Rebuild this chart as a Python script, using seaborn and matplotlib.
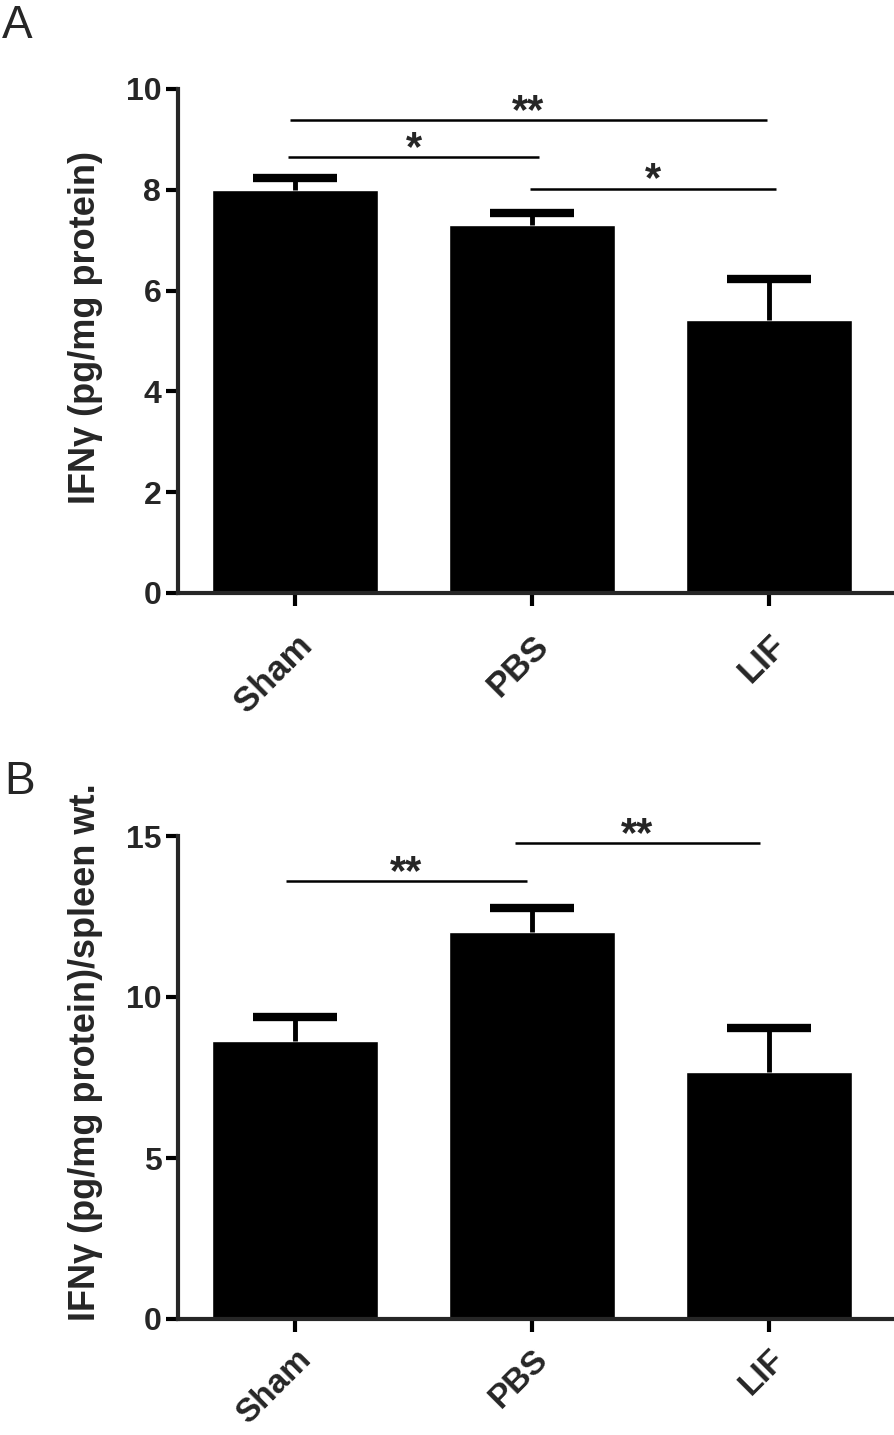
import matplotlib
matplotlib.use('Agg')
import matplotlib.pyplot as plt
import seaborn as sns
import pandas as pd


# =========================================================
# DATA
# =========================================================

groups = ['Sham', 'PBS', 'LIF']

ifng_a = [8.0, 7.3, 5.42]
sem_a = [0.23, 0.23, 0.82]

ifng_b = [8.62, 12.02, 7.66]
sem_b = [0.75, 0.74, 1.38]

# (x start, x end, line height, label)
sig_a = [
    (-0.02, 1.99, 9.38, '**'),
    (-0.03, 1.03, 8.65, '*'),
    (0.99, 2.03, 8.02, '*'),
]

sig_b = [
    (-0.04, 0.98, 13.6, '**'),
    (0.93, 1.96, 14.78, '**'),
]


# =========================================================
# STYLE
# =========================================================

sns.set_style('ticks')
plt.rcParams['font.family'] = ['Liberation Sans', 'DejaVu Sans']

SPINE_W = 3.0


def draw_panel(ax, values, errors, sigs, ymax, yticks, xpad, xsize):
    df = pd.DataFrame({'group': groups, 'value': values})

    sns.barplot(
        data=df, x='group', y='value',
        color='black', saturation=1, width=0.7,
        errorbar=None, ax=ax
    )

    # upper error bars only
    eb = ax.errorbar(
        range(len(groups)), values,
        yerr=[[0] * len(errors), errors],
        fmt='none', ecolor='black',
        elinewidth=3.5, capsize=30, capthick=6,
        zorder=1
    )
    caps = eb.lines[1]
    caps[0].set_visible(False)
    caps[1].set_solid_capstyle('round')

    for x0, x1, y, label in sigs:
        ax.plot([x0, x1], [y, y], color='black', lw=1.8,
                solid_capstyle='butt')
        ax.annotate(
            label, xy=((x0 + x1) / 2, y), xytext=(0, -2),
            textcoords='offset points', ha='center', va='baseline',
            fontsize=30, fontweight='bold'
        )

    ax.set_xlim(-0.494, 2.523)
    ax.set_ylim(0, ymax)
    ax.set_yticks(yticks)
    ax.set_xlabel('')
    ax.set_ylabel('')

    for side in ['top', 'right']:
        ax.spines[side].set_visible(False)
    for side in ['left', 'bottom']:
        ax.spines[side].set_linewidth(SPINE_W)

    ax.tick_params(axis='both', width=SPINE_W, length=9,
                   labelsize=23, color='black')
    ax.tick_params(axis='y', pad=3)
    ax.tick_params(axis='x', pad=xpad)

    for lbl in ax.get_yticklabels():
        lbl.set_fontweight('bold')
    for lbl in ax.get_xticklabels():
        lbl.set_fontweight('bold')
        lbl.set_fontsize(xsize)
        lbl.set_rotation(45)
        lbl.set_ha('right')
        lbl.set_va('top')
        lbl.set_rotation_mode('anchor')


# =========================================================
# FIGURE
# =========================================================

W, H = 895, 1435

fig = plt.figure(figsize=(W / 100, H / 100), dpi=100)

ax_a = fig.add_axes([178 / W, 842 / H, 715 / W, 504 / H])
ax_b = fig.add_axes([178 / W, 116 / H, 715 / W, 483 / H])

draw_panel(ax_a, ifng_a, sem_a, sig_a, 10, [0, 2, 4, 6, 8, 10], 17, 25)
draw_panel(ax_b, ifng_b, sem_b, sig_b, 15, [0, 5, 10, 15], 9, 24)

fig.text(86 / W, 1 - 327 / H, 'IFNγ (pg/mg protein)',
         rotation=90, ha='center', va='center',
         fontsize=26, fontweight='bold')
fig.text(86 / W, 1 - 1052 / H, 'IFNγ (pg/mg protein)/spleen wt.',
         rotation=90, ha='center', va='center',
         fontsize=26, fontweight='bold')

fig.text(2 / W, 1 - 4 / H, 'A', fontsize=33, ha='left', va='top')
fig.text(4 / W, 1 - 760 / H, 'B', fontsize=33, ha='left', va='top')

fig.savefig('out.png', dpi=100)
